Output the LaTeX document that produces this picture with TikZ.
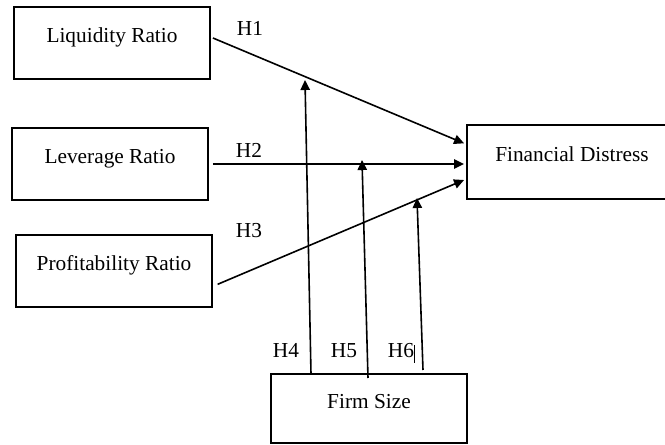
\documentclass[tikz,border=0pt]{standalone}
\usepackage{fontspec}
\setmainfont{Liberation Serif}
\usepackage{tikz}
\usetikzlibrary{arrows.meta,calc}

\begin{document}
\begin{tikzpicture}[x=0.75pt,y=-0.75pt,
  box/.style={draw,line width=1.4pt,minimum width=147pt,minimum height=54pt,inner sep=0pt},
  txt/.style={anchor=base,inner sep=0pt,font=\fontsize{16}{19}\selectfont},
  hyp/.style={line width=1.2pt,-{Triangle[length=7.5pt,width=7pt]}}]
\clip (0,0) rectangle (665,445);
\node[box] (lr) at (112,43) {};
\node[box] (lev) at (110,164) {};
\node[box] (pr) at (114,271) {};
\node[box,minimum width=157.5pt,minimum height=55.5pt] (fd) at (572,162) {};
\node[box,minimum height=51.75pt] (fs) at (369,408.5) {};
\node[txt] at (lr.center) {Liquidity Ratio};
\node[txt] at (lev.center) {Leverage Ratio};
\node[txt] at (pr.center) {Profitability Ratio};
\node[txt] at (fd.center) {Financial Distress};
\node[txt] at (fs.center) {Firm Size};
\coordinate (t4) at (305,80);
\coordinate (t5) at (362,160);
\coordinate (t6) at (417,198);
\coordinate (b4) at (311,374);
\coordinate (b5) at (368,378);
\coordinate (b6) at (423,370);
\draw[hyp] ([yshift=3.75pt,xshift=1.5pt]lr.east) -- ([yshift=14pt,xshift=-1.5pt]fd.west);
\draw[hyp] ([xshift=3pt]lev.east) -- ([xshift=-1.5pt]lev.east -| fd.west);
\draw[hyp] ([yshift=-10pt,xshift=3.5pt]pr.east) -- ([yshift=-13.5pt,xshift=-1.5pt]fd.west);
\draw[hyp] (b4) -- (t4);
\draw[hyp] (b5) -- (t5);
\draw[hyp] (b6) -- (t6);
\node[txt] (h1) at (250,36) {H1};
\node[txt] (h2) at (249,158) {H2};
\node[txt] (h3) at (249,238) {H3};
\node[txt] (h4) at (286,358) {H4};
\node[txt] (h5) at (344,358) {H5};
\node[txt] (h6) at (401,358) {H6};
\draw[line width=0.5pt] (414,345) -- (414,363);
\end{tikzpicture}
\end{document}
